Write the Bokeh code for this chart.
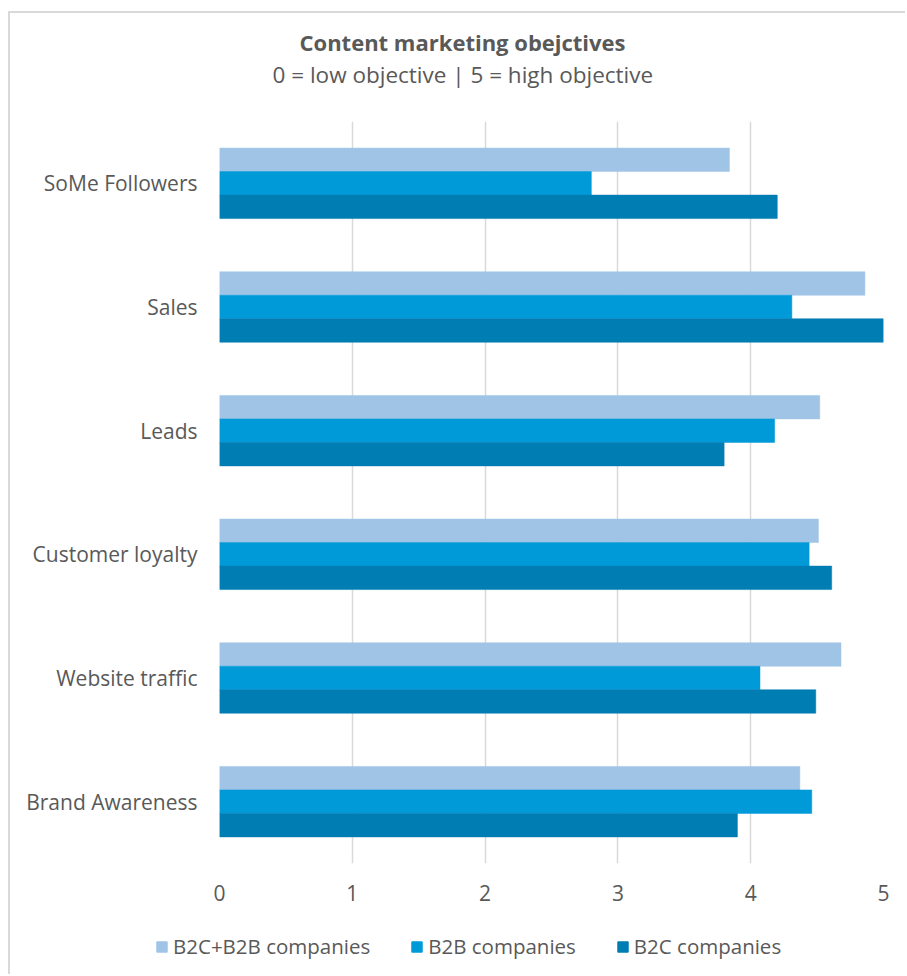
from bokeh.plotting import figure
from bokeh.models import (ColumnDataSource, FactorRange, Range1d, FixedTicker,
                          Legend, LegendItem, Title)
from bokeh.transform import dodge
from bokeh.embed import file_html
from bokeh.resources import INLINE

# ---- data (bottom to top) ----
categories = ["Brand Awareness", "Website traffic", "Customer loyalty",
              "Leads", "Sales", "SoMe Followers"]
series_names = ["B2C+B2B companies", "B2B companies", "B2C companies"]
b2c_b2b = [4.37, 4.68, 4.51, 4.52, 4.86, 3.84]
b2b = [4.46, 4.07, 4.44, 4.18, 4.31, 2.80]
b2c = [3.90, 4.49, 4.61, 3.80, 5.00, 4.20]
x_ticks = [0, 1, 2, 3, 4, 5]

colors = ["#A0C4E6", "#009AD8", "#007DB2"]
TXT = "#595959"
FONT = "Open Sans"
BORDER = "2px solid #D9D9D9"

src = ColumnDataSource(dict(cat=categories, s0=b2c_b2b, s1=b2b, s2=b2c))

p = figure(width=897, height=912,
           y_range=FactorRange(factors=categories, range_padding=0),
           x_range=Range1d(0, 5),
           output_backend="svg", toolbar_location=None,
           min_border_left=209, min_border_right=24,
           min_border_top=108, min_border_bottom=62)
p.margin = (11, 0, 0, 8)
p.styles = {"border-left": BORDER, "border-top": BORDER}
p.outline_line_color = None
p.background_fill_color = "white"
p.border_fill_color = "white"

bh = 0.19
for i, (col, c) in enumerate(zip(["s0", "s1", "s2"], colors)):
    off = bh * (1 - i)
    p.hbar(y=dodge("cat", off, range=p.y_range), right=col, left=0,
           height=bh, source=src, fill_color=c, line_color=c, line_width=0.5)

# grid / axes
p.ygrid.grid_line_color = None
p.xgrid.grid_line_color = "#D9D9D9"
p.xgrid.grid_line_width = 1.5
p.xaxis.ticker = FixedTicker(ticks=x_ticks)
for ax in (p.xaxis[0], p.yaxis[0]):
    ax.axis_line_color = None
    ax.major_tick_line_color = None
    ax.minor_tick_line_color = None
    ax.major_tick_out = 0
    ax.major_tick_in = 0
    ax.major_label_text_font = FONT
    ax.major_label_text_font_size = "21px"
    ax.major_label_text_color = TXT
p.yaxis.major_label_standoff = 22
p.xaxis.major_label_standoff = 21

# titles (first added sits closest to the frame)
p.add_layout(Title(text=" ", text_font_size="27px", standoff=0), "above")
p.add_layout(Title(text="0 = low objective | 5 = high objective", align="left",
                   offset=53, text_font=FONT, text_font_size="22.5px",
                   text_font_style="normal", text_color=TXT, standoff=0,
                   text_line_height=0.82), "above")
p.add_layout(Title(text="Content marketing obejctives", align="left",
                   offset=80, text_font=FONT, text_font_size="22px",
                   text_font_style="bold", text_color=TXT, standoff=0), "above")

# legend strip below the chart (separate root, so its frame spans the full width)
lf = figure(width=897, height=51, x_range=Range1d(0, 1), y_range=Range1d(0, 1),
            output_backend="svg", toolbar_location=None,
            x_axis_location=None, y_axis_location=None,
            min_border=0, min_border_left=0, min_border_right=0,
            min_border_top=0, min_border_bottom=0)
lf.margin = (0, 0, 0, 8)
lf.styles = {"border-left": BORDER}
lf.outline_line_color = None
lf.background_fill_color = "white"
lf.border_fill_color = "white"
lf.xgrid.visible = False
lf.ygrid.visible = False
swatches = []
for c in colors:
    # zero-size bar: only provides the legend swatch
    swatches.append(lf.hbar(y=[0], left=[0], right=[0], height=0,
                            fill_color=c, line_color=c))

legend = Legend(items=[LegendItem(label=n, renderers=[r]) for n, r in zip(series_names, swatches)],
                orientation="horizontal", location=(145, 14),
                glyph_width=13, glyph_height=13, label_height=20,
                label_standoff=5, spacing=40, padding=0, margin=0,
                border_line_color=None, background_fill_alpha=0,
                label_text_font=FONT, label_text_font_size="20.5px",
                label_text_color=TXT)
lf.add_layout(legend)

open("out.html", "w").write(file_html([p, lf], INLINE))
